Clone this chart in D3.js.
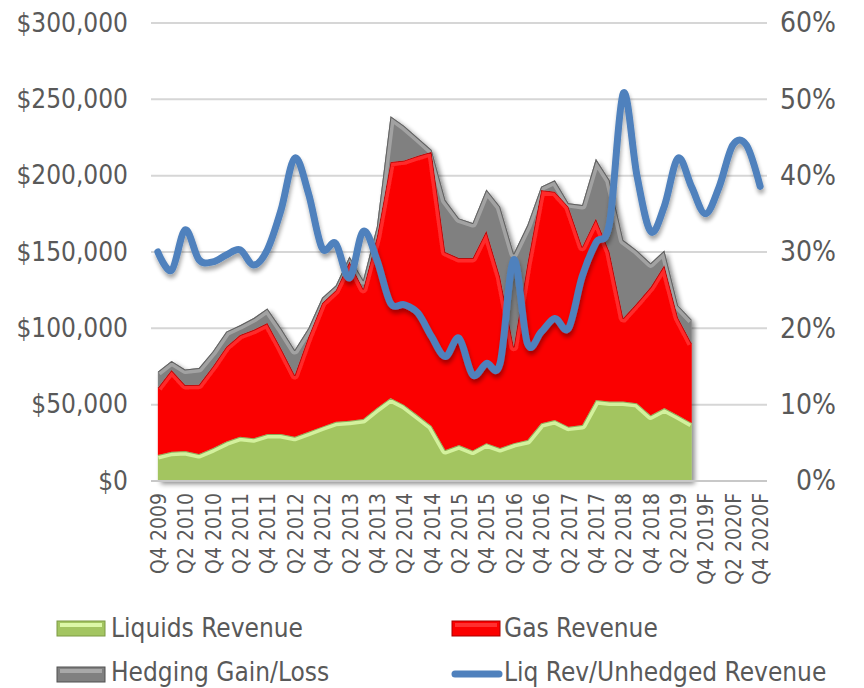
<!DOCTYPE html>
<html>
<head>
<meta charset="utf-8">
<script src="https://cdn.jsdelivr.net/npm/d3@7"></script>
<style>
  html, body { margin: 0; padding: 0; background: #ffffff; }
  svg { display: block; }
  text { font-family: "DejaVu Sans Condensed", "DejaVu Sans", sans-serif; font-stretch: condensed; fill: #595959; }
</style>
</head>
<body>
<script>
// Quarterly periods (the last five are forecasts)
const quarters = [
  "Q4 2009","Q1 2010","Q2 2010","Q3 2010","Q4 2010","Q1 2011","Q2 2011","Q3 2011","Q4 2011",
  "Q1 2012","Q2 2012","Q3 2012","Q4 2012","Q1 2013","Q2 2013","Q3 2013","Q4 2013",
  "Q1 2014","Q2 2014","Q3 2014","Q4 2014","Q1 2015","Q2 2015","Q3 2015","Q4 2015",
  "Q1 2016","Q2 2016","Q3 2016","Q4 2016","Q1 2017","Q2 2017","Q3 2017","Q4 2017",
  "Q1 2018","Q2 2018","Q3 2018","Q4 2018","Q1 2019","Q2 2019","Q3 2019",
  "Q4 2019F","Q1 2020F","Q2 2020F","Q3 2020F","Q4 2020F"
];

// Revenue components, $ (Q4 2009 – Q3 2019)
const liquidsRevenue = [
  17000,19200,19600,17700,21400,25800,29000,28000,30800,30800,29000,32300,35600,38800,39500,40600,47800,
  54400,49800,43000,36000,20300,23600,20000,24800,21600,24800,26800,37800,40000,35600,36700,53000,
  52000,52000,51000,43000,47800,43000,38000
];
const gasRevenue = [
  44000,53500,43300,45300,53500,62200,66600,71000,72700,56200,40400,62200,81000,86200,104200,85400,112200,
  154600,160200,170000,179700,129700,122400,126000,139200,112200,63200,115900,152800,149500,144100,116800,119000,
  98000,54700,65600,84000,93700,64000,52000
];
const hedgingGainLoss = [
  10600,5900,10100,11000,9800,9800,6400,7700,9500,13000,16400,5500,3400,3000,3300,5600,6600,
  30000,22500,11700,1100,34000,26000,23000,27000,45900,61000,25000,2200,7500,2300,27300,39000,
  47000,51100,34400,15600,9500,8000,15500
];
// Liquids revenue as a share of unhedged revenue (all quarters incl. forecast)
const liqShare = [
  0.300,0.276,0.329,0.290,0.287,0.296,0.303,0.283,0.303,0.355,0.423,0.377,0.305,0.311,0.266,0.327,0.290,
  0.233,0.231,0.220,0.189,0.163,0.187,0.139,0.154,0.154,0.290,0.180,0.195,0.213,0.200,0.268,0.312,
  0.338,0.508,0.400,0.327,0.360,0.423,0.385,0.350,0.385,0.440,0.440,0.386
];

const dollarTicks = [0, 50000, 100000, 150000, 200000, 250000, 300000];
const percentTicks = [0, 0.1, 0.2, 0.3, 0.4, 0.5, 0.6];
const labelledQuarters = quarters.filter((q, i) => i % 2 === 0);

const W = 864, H = 688;
const plotLeft = 151, plotRight = 767, plotTop = 23, plotBottom = 481;

const svg = d3.select("body").append("svg").attr("width", W).attr("height", H);
const defs = svg.append("defs");

// soft drop shadows for the areas and the ratio line
function shadow(id, dx, dy, blur, op) {
  const f = defs.append("filter").attr("id", id)
    .attr("x", "-10%").attr("y", "-10%").attr("width", "120%").attr("height", "130%");
  f.append("feGaussianBlur").attr("in", "SourceAlpha").attr("stdDeviation", blur).attr("result", "b");
  f.append("feOffset").attr("in", "b").attr("dx", dx).attr("dy", dy).attr("result", "o");
  f.append("feComponentTransfer").attr("in", "o").attr("result", "s")
    .append("feFuncA").attr("type", "linear").attr("slope", op);
  const m = f.append("feMerge");
  m.append("feMergeNode").attr("in", "s");
  m.append("feMergeNode").attr("in", "SourceGraphic");
}
shadow("areaShadow", 3, 3, 2.5, 0.45);
shadow("lineShadow", 1, 4, 2, 0.35);

const x = d3.scalePoint().domain(quarters).range([plotLeft, plotRight]).padding(0.5);
const y = d3.scaleLinear().domain([0, 300000]).range([plotBottom, plotTop]);
const y2 = d3.scaleLinear().domain([0, 0.6]).range([plotBottom, plotTop]);

// horizontal gridlines
svg.append("g").selectAll("line").data(dollarTicks.slice(1)).join("line")
  .attr("x1", plotLeft).attr("x2", plotRight)
  .attr("y1", d => y(d)).attr("y2", d => y(d))
  .attr("stroke", "#d6d6d6").attr("stroke-width", 2);

// stacked areas
const rows = liquidsRevenue.map((v, i) => ({
  q: quarters[i], liquids: v, gas: gasRevenue[i], hedging: hedgingGainLoss[i]
}));
const keys = ["liquids", "gas", "hedging"];
const stacked = d3.stack().keys(keys)(rows);

const styles = {
  liquids: { fill: "#a3c561", band: "#dcf8a8", edge: "#7d9a45" },
  gas:     { fill: "#fb0000", band: "#ff3030", edge: "#a80000" },
  hedging: { fill: "#808080", band: "#a8a8a8", edge: "#505050" }
};

const area = d3.area()
  .x(d => x(d.data.q))
  .y0(d => y(d[0]))
  .y1(d => y(d[1]));
const topLine = d3.line()
  .x(d => x(d.data.q))
  .y(d => y(d[1]));

const areaG = svg.append("g").attr("filter", "url(#areaShadow)");
stacked.forEach(layer => {
  const st = styles[layer.key];
  const cid = "clip-" + layer.key;
  defs.append("clipPath").attr("id", cid).append("path").attr("d", area(layer));
  const g = areaG.append("g");
  g.append("path").attr("d", area(layer)).attr("fill", st.fill);
  // bevel highlight just inside the upper edge
  g.append("path").attr("d", topLine(layer)).attr("clip-path", `url(#${cid})`)
    .attr("fill", "none").attr("stroke", st.band).attr("stroke-width", 9)
    .attr("stroke-linejoin", "round").attr("opacity", 0.85);
  g.append("path").attr("d", topLine(layer)).attr("clip-path", `url(#${cid})`)
    .attr("fill", "none").attr("stroke", st.edge).attr("stroke-width", 2)
    .attr("stroke-linejoin", "round").attr("opacity", 0.8);
});

// bottom axis line
svg.append("line").attr("x1", plotLeft).attr("x2", plotRight).attr("y1", plotBottom).attr("y2", plotBottom)
  .attr("stroke", "#c8c8c8").attr("stroke-width", 2);

// ratio line
const ratioLine = d3.line()
  .x((d, i) => x(quarters[i]))
  .y(d => y2(d))
  .curve(d3.curveCardinal.tension(0));
svg.append("path").datum(liqShare)
  .attr("d", ratioLine)
  .attr("fill", "none").attr("stroke", "#4f81bd").attr("stroke-width", 7)
  .attr("stroke-linecap", "round").attr("stroke-linejoin", "round")
  .attr("filter", "url(#lineShadow)");

// axes
const fmtDollar = d => "$" + d3.format(",")(d);
const yAxis = svg.append("g").attr("transform", `translate(${plotLeft},0)`)
  .call(d3.axisLeft(y).tickValues(dollarTicks).tickFormat(fmtDollar).tickSize(0).tickPadding(23));
const y2Axis = svg.append("g").attr("transform", `translate(${plotRight},0)`)
  .call(d3.axisRight(y2).tickValues(percentTicks).tickFormat(d3.format(".0%")).tickSize(0).tickPadding(69));
[yAxis, y2Axis].forEach(a => {
  a.attr("font-family", null).attr("font-size", null);
  a.select(".domain").remove();
  a.selectAll("text").attr("font-size", 26).attr("fill", "#595959");
});
// percentage labels sit flush right
y2Axis.selectAll("text").attr("text-anchor", "end").attr("font-size", 28);

const xAxis = svg.append("g").attr("transform", `translate(0,${plotBottom})`)
  .call(d3.axisBottom(x).tickValues(labelledQuarters).tickSize(0));
xAxis.attr("font-family", null).attr("font-size", null);
xAxis.select(".domain").remove();
xAxis.selectAll("text")
  .attr("transform", "rotate(-90)")
  .attr("x", -12).attr("y", 0).attr("dy", "0.36em")
  .attr("text-anchor", "end")
  .attr("font-size", 21).attr("fill", "#595959");

// legend
const legend = svg.append("g");
function swatch(x0, y0, st) {
  legend.append("rect").attr("x", x0).attr("y", y0).attr("width", 48).attr("height", 15)
    .attr("fill", st.fill).attr("stroke", st.edge).attr("stroke-width", 1);
  legend.append("rect").attr("x", x0 + 3).attr("y", y0 + 2).attr("width", 42).attr("height", 4)
    .attr("fill", st.band);
}
swatch(57, 621, styles.liquids);
swatch(452, 621, styles.gas);
swatch(57, 667, styles.hedging);
legend.append("line").attr("x1", 455).attr("x2", 499).attr("y1", 674).attr("y2", 674)
  .attr("stroke", "#4f81bd").attr("stroke-width", 7).attr("stroke-linecap", "round");
const legendText = [
  { t: "Liquids Revenue", x: 111, y: 637 },
  { t: "Gas Revenue", x: 504, y: 637 },
  { t: "Hedging Gain/Loss", x: 111, y: 681 },
  { t: "Liq Rev/Unhedged Revenue", x: 504, y: 681 }
];
legend.selectAll("text").data(legendText).join("text")
  .attr("x", d => d.x).attr("y", d => d.y).attr("font-size", 26).text(d => d.t);
</script>
</body>
</html>
